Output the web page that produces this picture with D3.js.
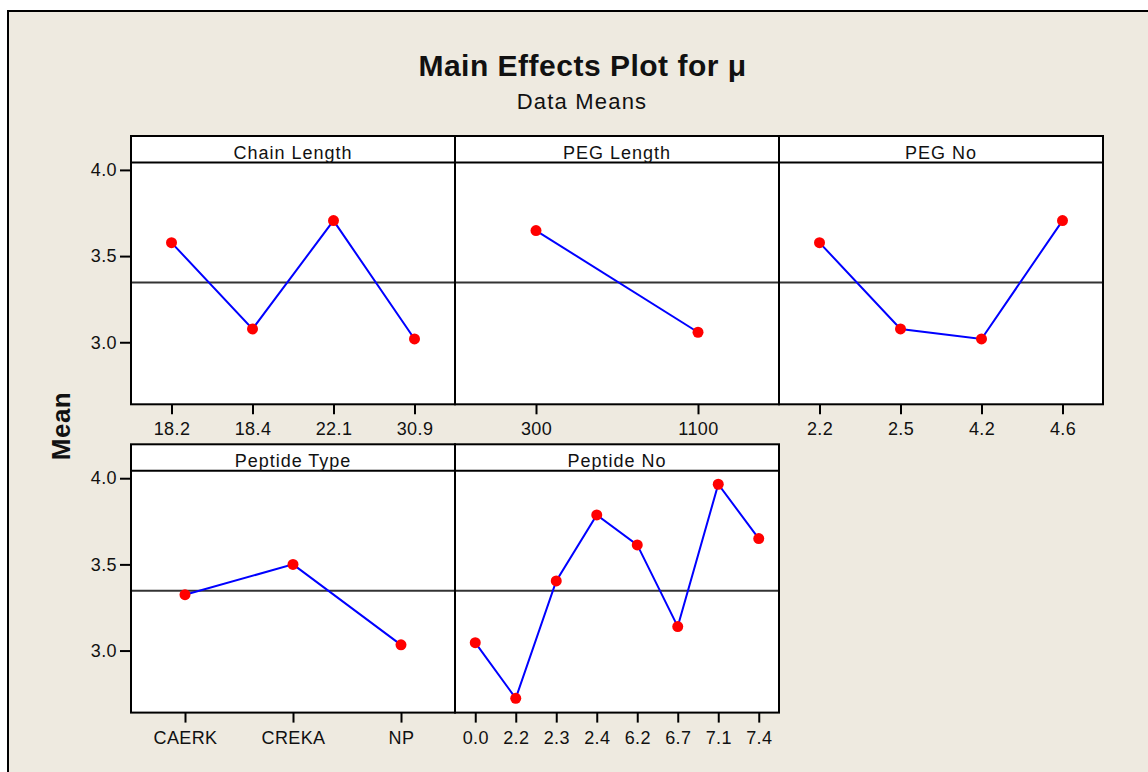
<!DOCTYPE html>
<html>
<head>
<meta charset="utf-8">
<script src="https://cdn.jsdelivr.net/npm/d3@7/dist/d3.min.js"></script>
<style>
  html, body { margin: 0; padding: 0; background: #ffffff; }
  svg { display: block; }
  text { font-family: "Liberation Sans", Arial, sans-serif; fill: #111; }
</style>
</head>
<body>
<svg id="chart" width="1148" height="772"></svg>
<script>
// Factor names and their levels
const factorNames = ["Chain Length", "PEG Length", "PEG No", "Peptide Type", "Peptide No"];

const chainLengthLevels = ["18.2", "18.4", "22.1", "30.9"];
const chainLengthMeans  = [3.578, 3.077, 3.706, 3.019];

const pegLengthLevels = ["300", "1100"];
const pegLengthMeans  = [3.648, 3.058];

const pegNoLevels = ["2.2", "2.5", "4.2", "4.6"];
const pegNoMeans  = [3.578, 3.077, 3.019, 3.706];

const peptideTypeLevels = ["CAERK", "CREKA", "NP"];
const peptideTypeMeans  = [3.324, 3.500, 3.033];

const peptideNoLevels = ["0.0", "2.2", "2.3", "2.4", "6.2", "6.7", "7.1", "7.4"];
const peptideNoMeans  = [3.046, 2.723, 3.404, 3.787, 3.613, 3.139, 3.965, 3.650];

// Overall mean of the response
const grandMean = 3.347;

// Y axis
const yTicks = [3.0, 3.5, 4.0];
const yDomain = [2.64, 4.043];

const panels = [
  { name: factorNames[0], levels: chainLengthLevels, means: chainLengthMeans, row: 0, col: 0 },
  { name: factorNames[1], levels: pegLengthLevels,   means: pegLengthMeans,   row: 0, col: 1 },
  { name: factorNames[2], levels: pegNoLevels,       means: pegNoMeans,       row: 0, col: 2 },
  { name: factorNames[3], levels: peptideTypeLevels, means: peptideTypeMeans, row: 1, col: 0 },
  { name: factorNames[4], levels: peptideNoLevels,   means: peptideNoMeans,   row: 1, col: 1 }
];

// Layout
const gridLeft = 131;
const panelW = 324;
const headerH = 26.5;
const rowTops = [136, 444.3];
const plotH = 241.8;

const svg = d3.select("#chart");

// Figure background with frame
svg.append("rect")
  .attr("x", 8).attr("y", 11)
  .attr("width", 1160).attr("height", 780)
  .attr("fill", "#eeeae0")
  .attr("stroke", "#000").attr("stroke-width", 2);

// Titles
svg.append("text")
  .attr("x", 582.5).attr("y", 76)
  .attr("text-anchor", "middle")
  .style("font-size", "30px").style("font-weight", "bold")
  .style("letter-spacing", "0.5px")
  .text("Main Effects Plot for \u03bc");

svg.append("text")
  .attr("x", 582).attr("y", 108.5)
  .attr("text-anchor", "middle")
  .style("font-size", "22px")
  .style("letter-spacing", "1.2px")
  .text("Data Means");

// Y axis title
svg.append("text")
  .attr("transform", "translate(70,426) rotate(-90)")
  .attr("text-anchor", "middle")
  .style("font-size", "26px").style("font-weight", "bold")
  .style("letter-spacing", "0.5px")
  .text("Mean");

panels.forEach(p => {
  const x0 = gridLeft + p.col * panelW;
  const headerTop = rowTops[p.row];
  const plotTop = headerTop + headerH;
  const plotBottom = plotTop + plotH;

  const g = svg.append("g");

  const x = d3.scalePoint()
    .domain(p.levels)
    .range([x0, x0 + panelW])
    .padding(0.5);

  const y = d3.scaleLinear()
    .domain(yDomain)
    .range([plotBottom, plotTop]);

  // panel + header boxes
  g.append("rect")
    .attr("x", x0).attr("y", headerTop)
    .attr("width", panelW).attr("height", headerH + plotH)
    .attr("fill", "#ffffff");

  // grand mean reference line
  g.append("line")
    .attr("x1", x0).attr("x2", x0 + panelW)
    .attr("y1", y(grandMean)).attr("y2", y(grandMean))
    .attr("stroke", "#333").attr("stroke-width", 2);

  // connecting line
  const pts = p.levels.map((l, i) => [x(l), y(p.means[i])]);
  g.append("path")
    .attr("d", d3.line()(pts))
    .attr("fill", "none")
    .attr("stroke", "#0000ff").attr("stroke-width", 2);

  // points
  g.selectAll("circle.pt")
    .data(p.levels.map((l, i) => ({ l, v: p.means[i] })))
    .join("circle")
    .attr("class", "pt")
    .attr("cx", d => x(d.l)).attr("cy", d => y(d.v))
    .attr("r", 5.5)
    .attr("fill", "#ff0000");

  // frame
  g.append("rect")
    .attr("x", x0).attr("y", headerTop)
    .attr("width", panelW).attr("height", headerH + plotH)
    .attr("fill", "none")
    .attr("stroke", "#000").attr("stroke-width", 2);
  g.append("line")
    .attr("x1", x0).attr("x2", x0 + panelW)
    .attr("y1", plotTop).attr("y2", plotTop)
    .attr("stroke", "#000").attr("stroke-width", 2);

  // header label
  g.append("text")
    .attr("x", x0 + panelW / 2).attr("y", plotTop - 4)
    .attr("text-anchor", "middle")
    .style("font-size", "18px")
    .style("letter-spacing", "1px")
    .text(p.name);

  // x axis
  const xAxis = g.append("g")
    .attr("transform", `translate(0,${plotBottom})`)
    .call(d3.axisBottom(x).tickSize(10).tickSizeOuter(0));
  xAxis.select(".domain").remove();
  xAxis.selectAll(".tick line").attr("stroke", "#000").attr("stroke-width", 2);
  xAxis.selectAll(".tick text")
    .attr("y", 31).attr("dy", null)
    .attr("fill", "#111")
    .style("font-family", "'Liberation Sans', Arial, sans-serif")
    .style("font-size", "18px")
    .style("letter-spacing", "0.4px");

  // y axis on the first column
  if (p.col === 0) {
    const yAxis = g.append("g")
      .attr("transform", `translate(${x0},0)`)
      .call(d3.axisLeft(y).tickValues(yTicks).tickFormat(d3.format(".1f"))
        .tickSize(11).tickPadding(3).tickSizeOuter(0));
    yAxis.select(".domain").remove();
    yAxis.selectAll(".tick line").attr("stroke", "#000").attr("stroke-width", 2);
    yAxis.selectAll(".tick text")
      .attr("fill", "#111")
      .style("font-family", "'Liberation Sans', Arial, sans-serif")
      .style("font-size", "18px")
      .style("letter-spacing", "0.4px");
  }
});
</script>
</body>
</html>
